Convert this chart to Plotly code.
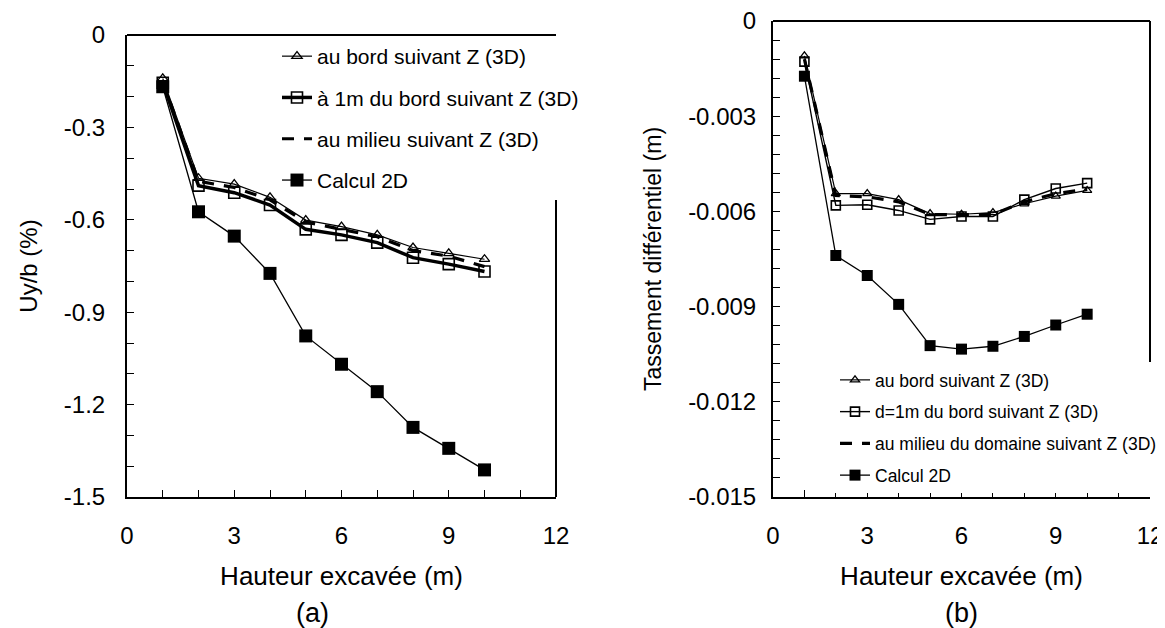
import plotly.graph_objects as go

# ---------------- data ----------------
hauteur = [1, 2, 3, 4, 5, 6, 7, 8, 9, 10]

# (a) Uy/b (%)
a_bord = [-0.141, -0.465, -0.484, -0.527, -0.601, -0.622, -0.649, -0.690, -0.709, -0.728]
a_1m = [-0.155, -0.489, -0.512, -0.552, -0.631, -0.649, -0.674, -0.723, -0.744, -0.768]
a_milieu = [-0.150, -0.475, -0.495, -0.535, -0.607, -0.630, -0.655, -0.700, -0.718, -0.752]
a_2d = [-0.168, -0.574, -0.653, -0.774, -0.977, -1.069, -1.158, -1.274, -1.342, -1.412]

# (b) Tassement différentiel (m)
b_bord = [-0.00110, -0.00544, -0.00544, -0.00563, -0.00607, -0.00609, -0.00604, -0.00576, -0.00552, -0.00534]
b_1m = [-0.00128, -0.00581, -0.00579, -0.00597, -0.00625, -0.00616, -0.00616, -0.00563, -0.00528, -0.00511]
b_milieu = [-0.00120, -0.00550, -0.00554, -0.00570, -0.00610, -0.00610, -0.00610, -0.00570, -0.00544, -0.00530]
b_2d = [-0.00174, -0.00739, -0.00802, -0.00893, -0.01023, -0.01034, -0.01025, -0.00994, -0.00958, -0.00924]

names_a = ["au bord suivant Z (3D)", "à 1m du bord suivant Z (3D)",
           "au milieu suivant Z (3D)", "Calcul 2D"]
names_b = ["au bord suivant Z (3D)", "d=1m du bord suivant Z (3D)",
           "au milieu du domaine suivant Z (3D)", "Calcul 2D"]

x_ticks = [0, 3, 6, 9, 12]
x_ticktext = ["0", "3", "6", "9", "12"]
ya_ticks = [0, -0.3, -0.6, -0.9, -1.2, -1.5]
ya_ticktext = ["0", "-0.3", "-0.6", "-0.9", "-1.2", "-1.5"]
yb_ticks = [0, -0.003, -0.006, -0.009, -0.012, -0.015]
yb_ticktext = ["0", "-0.003", "-0.006", "-0.009", "-0.012", "-0.015"]

FONT = "Liberation Sans, Arial, sans-serif"
OFF = 8                       # page body margin
W, H = 1165 - OFF, 628 - OFF

fig = go.Figure()

def add_set(xax, yax, leg, series, names, big):
    sizes = (9, 11, 13) if big else (8, 9, 11)
    styles = [
        dict(mode="lines+markers", line=dict(color="black", width=1.2),
             marker=dict(symbol="triangle-up-open", size=sizes[0], color="black",
                         line=dict(width=1.3, color="black"))),
        dict(mode="lines+markers", line=dict(color="black", width=3.5 if big else 1.4),
             marker=dict(symbol="square-open", size=sizes[1], color="black",
                         line=dict(width=1.6, color="black"))),
        dict(mode="lines", line=dict(color="black", width=3.2, dash="12px,10px")),
        dict(mode="lines+markers", line=dict(color="black", width=1.3),
             marker=dict(symbol="square", size=sizes[2], color="black")),
    ]
    for i, (vals, nm, st) in enumerate(zip(series, names, styles)):
        fig.add_trace(go.Scatter(x=hauteur, y=vals, name=nm, xaxis=xax, yaxis=yax,
                                 legend=leg, legendgroup=f"{leg}{i}", **st))

add_set("x", "y", "legend", [a_bord, a_1m, a_milieu, a_2d], names_a, True)
add_set("x2", "y2", "legend2", [b_bord, b_1m, b_milieu, b_2d], names_b, False)

def px_x(p):
    return (p - OFF) / W

def px_y(p):
    return 1 - (p - OFF) / H

axis_common = dict(showline=True, linecolor="black", linewidth=2, mirror=False,
                   ticks="inside", ticklen=7, tickwidth=1.3, tickcolor="black",
                   showgrid=False, zeroline=False, automargin=False,
                   ticklabeloverflow="allow",
                   tickfont=dict(family=FONT, size=24, color="black"))

fig.update_layout(
    width=W, height=H, margin=dict(l=0, r=0, t=0, b=0),
    paper_bgcolor="white", plot_bgcolor="white",
    font=dict(family=FONT, color="black"),
    xaxis=dict(domain=[px_x(127), px_x(556)], range=[0, 12], anchor="y",
               tickmode="array", tickvals=x_ticks, ticktext=x_ticktext,
               minor=dict(tickmode="linear", tick0=0, dtick=1, ticks="inside",
                          ticklen=7, tickwidth=1.3, tickcolor="black"),
               ticklabelstandoff=16,
               title=dict(text="Hauteur excavée (m)", font=dict(family=FONT, size=26),
                          standoff=19),
               **axis_common),
    yaxis=dict(domain=[px_y(497), px_y(35)], range=[-1.5, 0], anchor="x",
               tickmode="array", tickvals=ya_ticks, ticktext=ya_ticktext,
               minor=dict(tickmode="linear", tick0=0, dtick=0.1, ticks="inside",
                          ticklen=7, tickwidth=1.3, tickcolor="black"),
               ticklabelstandoff=15,
               title=dict(text="Uy/b (%)", font=dict(family=FONT, size=24),
                          standoff=19),
               **axis_common),
    xaxis2=dict(domain=[px_x(773), px_x(1150)], range=[0, 12], anchor="y2",
                tickmode="array", tickvals=x_ticks, ticktext=x_ticktext,
                minor=dict(tickmode="linear", tick0=0, dtick=1, ticks="inside",
                           ticklen=7, tickwidth=1.3, tickcolor="black"),
                ticklabelstandoff=16,
                title=dict(text="Hauteur excavée (m)", font=dict(family=FONT, size=26),
                           standoff=19),
                **axis_common),
    yaxis2=dict(domain=[px_y(497), px_y(21)], range=[-0.015, 0], anchor="x2",
                tickmode="array", tickvals=yb_ticks, ticktext=yb_ticktext,
                minor=dict(tickmode="linear", tick0=0, dtick=0.0006, ticks="inside",
                           ticklen=7, tickwidth=1.3, tickcolor="black"),
                ticklabelstandoff=10,
                title=dict(text="Tassement différentiel (m)", font=dict(family=FONT, size=23),
                           standoff=20),
                **axis_common),
    legend=dict(x=px_x(277), y=px_y(36), xanchor="left", yanchor="top",
                bgcolor="rgba(0,0,0,0)", font=dict(family=FONT, size=21, color="black"),
                tracegroupgap=11, itemwidth=30),
    legend2=dict(x=px_x(835), y=px_y(362), xanchor="left", yanchor="top",
                 bgcolor="white", font=dict(family=FONT, size=17.5, color="black"),
                 tracegroupgap=6, itemwidth=30),
    showlegend=True,
)

# frame lines (top full, right partial where the legend box sits)
fig.add_shape(type="line", xref="x domain", yref="y domain", x0=0, x1=1, y0=1, y1=1,
              line=dict(color="black", width=2))
fig.add_shape(type="line", xref="x domain", yref="y domain", x0=1, x1=1, y0=0,
              y1=(497 - 200) / (497 - 35), line=dict(color="black", width=2))
fig.add_shape(type="line", xref="x2 domain", yref="y2 domain", x0=0, x1=1, y0=1, y1=1,
              line=dict(color="black", width=2))
fig.add_shape(type="line", xref="x2 domain", yref="y2 domain", x0=1, x1=1,
              y0=(497 - 363) / (497 - 21), y1=1, line=dict(color="black", width=2))

fig.add_annotation(text="(a)", x=px_x(312), y=px_y(613), xref="paper", yref="paper",
                   xanchor="center", yanchor="middle",
                   showarrow=False, font=dict(family=FONT, size=27, color="black"))
fig.add_annotation(text="(b)", x=px_x(961), y=px_y(613), xref="paper", yref="paper",
                   xanchor="center", yanchor="middle",
                   showarrow=False, font=dict(family=FONT, size=27, color="black"))

fig.write_html("out.html")
